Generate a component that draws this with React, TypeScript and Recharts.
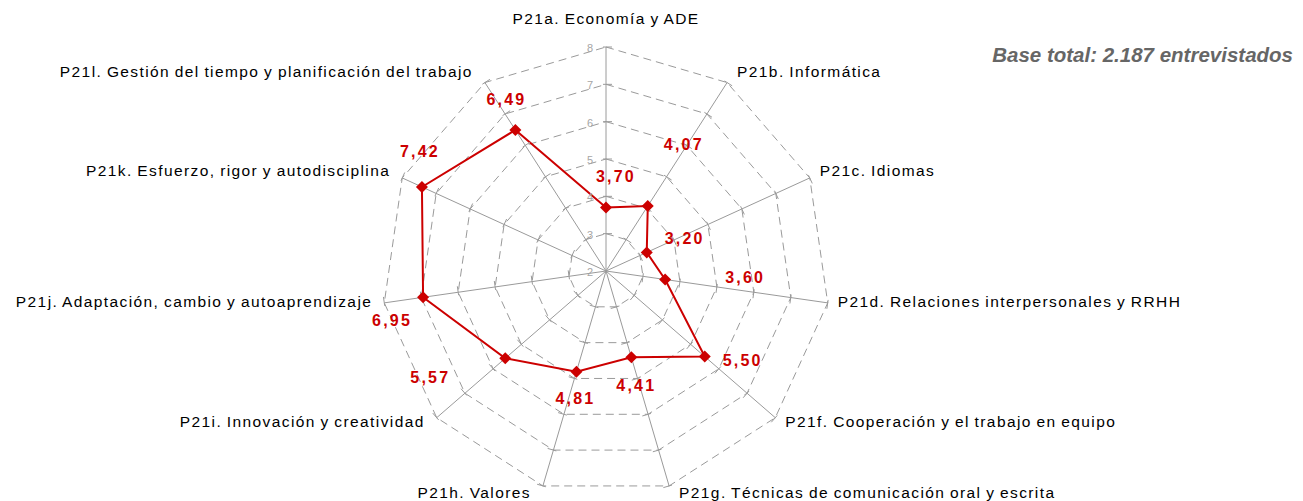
import React from "react";
import {
  RadarChart,
  Radar,
  PolarGrid,
  PolarAngleAxis,
  PolarRadiusAxis,
} from "recharts";

// ── Data ──────────────────────────────────────────────────────────────────────
const CATEGORIES = [
  "P21a. Economía y ADE",
  "P21b. Informática",
  "P21c. Idiomas",
  "P21d. Relaciones interpersonales y RRHH",
  "P21f. Cooperación y el trabajo en equipo",
  "P21g. Técnicas de comunicación oral y escrita",
  "P21h. Valores",
  "P21i. Innovación y creatividad",
  "P21j. Adaptación, cambio y autoaprendizaje",
  "P21k. Esfuerzo, rigor y autodisciplina",
  "P21l. Gestión del tiempo y planificación del trabajo",
];
const VALUES = [3.7, 4.07, 3.2, 3.6, 5.5, 4.41, 4.81, 5.57, 6.95, 7.42, 6.49];
const RADIUS_TICKS = [2, 3, 4, 5, 6, 7, 8];

// hand-placed value labels (dx, dy from the point), like the original
const LABEL_OFFSETS: [number, number][] = [
  [10, -31], [36, -61], [38, -14], [80, -2], [38, 4], [5, 28],
  [-1, 27], [-75, 19], [-31, 23], [-2, -35], [-9, -30],
];

// ── Layout / colours ─────────────────────────────────────────────────────────
const W = 1303;
const H = 501;
const CX = 606;
const CY = 271;
const R = 224;
const RED = "#cc0000";
const GRID = "#9a9a9a";
const FONT = "'Liberation Sans', Arial, sans-serif";

const data = CATEGORIES.map((name, i) => ({ name, value: VALUES[i] }));

function fmt(v: number) {
  return v.toFixed(2).replace(".", ",");
}

function AngleTick(props: any) {
  const { x, y, payload } = props;
  const a = Math.atan2(CY - y, x - CX);
  const c = Math.cos(a);
  const s = Math.sin(a);
  const ex = CX + R * c;
  const ey = CY - R * s;
  let tx = ex;
  let ty = ey - 29;
  let anchor = "middle";
  if (Math.abs(c) > 0.1) {
    anchor = c > 0 ? "start" : "end";
    tx = ex + (c > 0 ? 10 : -12);
    ty = ey - 10 * s - 3;
  }
  return (
    <text
      x={tx}
      y={ty}
      textAnchor={anchor}
      dominantBaseline="central"
      fill="#000"
      style={{ fontFamily: FONT, fontSize: 15.5, letterSpacing: 1.4, wordSpacing: -1 }}
    >
      {payload.value}
    </text>
  );
}

function RadiusTick(props: any) {
  const { x, y, payload } = props;
  const r = Math.hypot(x - CX, y - CY);
  const marks = r > 1
    ? CATEGORIES.map((_, i) => {
        const a = ((90 - (i * 360) / CATEGORIES.length) * Math.PI) / 180;
        const px = CX + r * Math.cos(a);
        const py = CY - r * Math.sin(a);
        const nx = Math.sin(a);
        const ny = Math.cos(a);
        return (
          <line
            key={i}
            x1={px - 3 * nx}
            y1={py - 3 * ny}
            x2={px + 6 * nx}
            y2={py + 6 * ny}
            stroke={GRID}
            strokeWidth={1}
          />
        );
      })
    : null;
  return (
    <g>
      {marks}
      <text
        x={x - 13}
        y={y + 1}
        textAnchor="end"
        dominantBaseline="central"
        fill="#a6a6a6"
        style={{ fontFamily: FONT, fontSize: 11 }}
      >
        {payload.value}
      </text>
    </g>
  );
}

function Dot(props: any) {
  const { cx, cy, index, payload } = props;
  if (cx == null || cy == null) return <g key={`d-${index}`} />;
  const d = 6;
  const [dx, dy] = LABEL_OFFSETS[index] ?? [0, -20];
  return (
    <g key={`d-${index}`}>
      <path
        d={`M${cx},${cy - d} L${cx + d},${cy} L${cx},${cy + d} L${cx - d},${cy} Z`}
        fill={RED}
      />
      <text
        x={cx + dx}
        y={cy + dy}
        textAnchor="middle"
        dominantBaseline="central"
        fill={RED}
        style={{ fontFamily: FONT, fontSize: 16, fontWeight: 700, letterSpacing: 2.2 }}
      >
        {fmt(payload.value)}
      </text>
    </g>
  );
}

export default function App() {
  return (
    <div style={{ position: "absolute", left: 0, top: 0, width: W, height: H, background: "#fff" }}>
      <RadarChart
        width={W}
        height={H}
        data={data}
        cx={CX}
        cy={CY}
        outerRadius={R}
        margin={{ top: 0, right: 0, bottom: 0, left: 0 }}
      >
        {/* dashed rings */}
        <PolarGrid
          gridType="polygon"
          radialLines={false}
          stroke={GRID}
          strokeDasharray="8 5"
        />
        {/* solid spokes */}
        <PolarGrid gridType="polygon" polarRadius={[]} stroke={GRID} />
        <PolarAngleAxis
          dataKey="name"
          tickLine={false}
          axisLine={false}
          tick={<AngleTick />}
        />
        <PolarRadiusAxis
          angle={90}
          domain={[2, 8]}
          ticks={RADIUS_TICKS}
          tickCount={7}
          axisLine={false}
          tickLine={false}
          tick={<RadiusTick />}
        />
        <Radar
          dataKey="value"
          stroke={RED}
          strokeWidth={2}
          fill="none"
          fillOpacity={0}
          dot={Dot}
          isAnimationActive={false}
        />
      </RadarChart>
      <div
        style={{
          position: "absolute",
          right: 10,
          top: 43,
          fontFamily: FONT,
          fontSize: 20.5,
          fontWeight: 700,
          fontStyle: "italic",
          color: "#666",
          lineHeight: "24px",
          whiteSpace: "nowrap",
        }}
      >
        Base total: 2.187 entrevistados
      </div>
    </div>
  );
}
